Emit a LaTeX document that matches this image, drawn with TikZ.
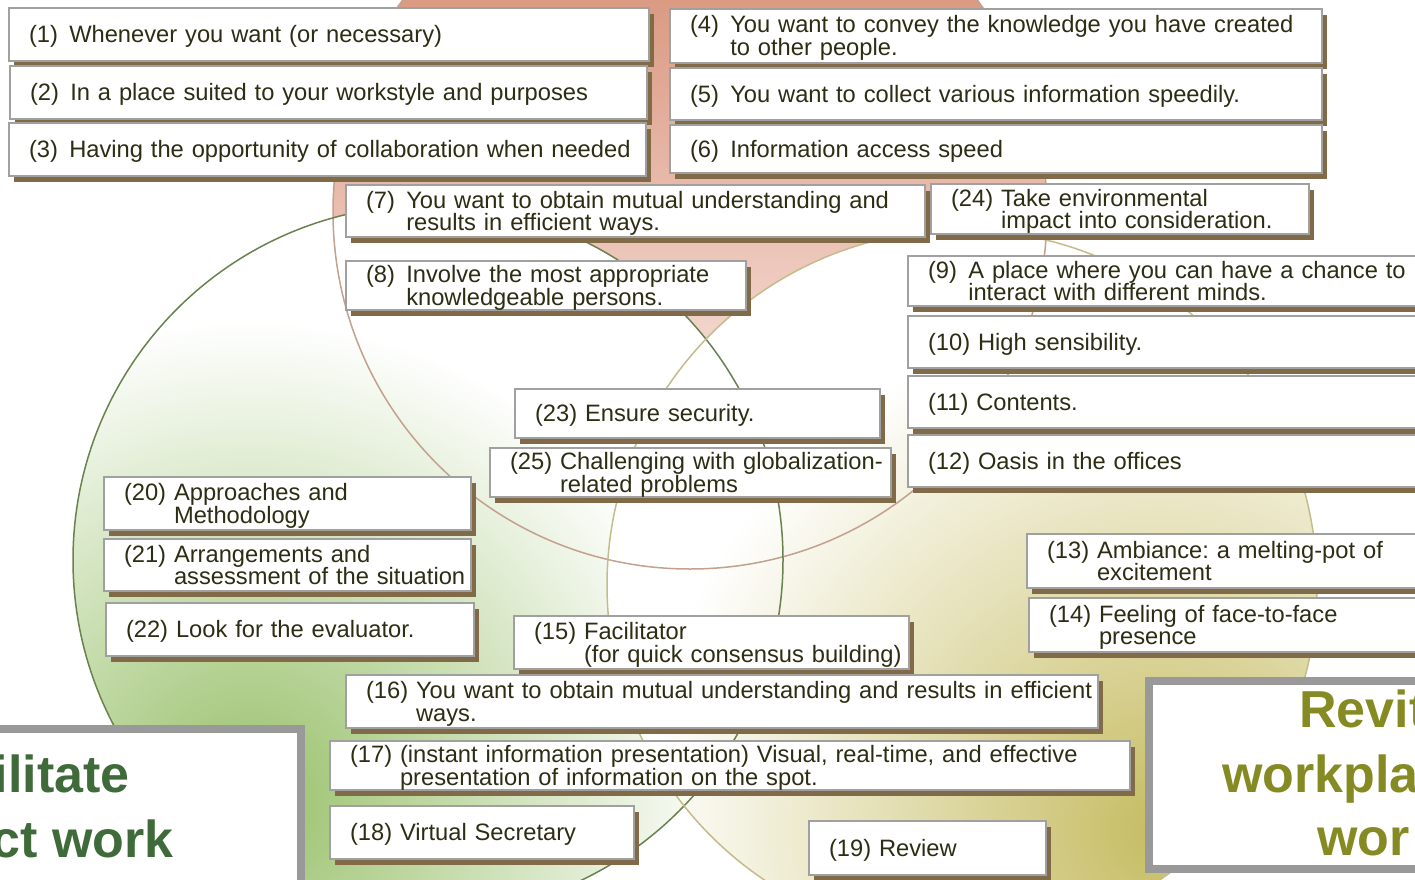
\documentclass[tikz,border=0pt]{standalone}
\usepackage{fontspec}
\setmainfont{Liberation Sans}
\usepackage{array}
\usetikzlibrary{shadows}
\frenchspacing

\definecolor{boxgray}{RGB}{160,160,160}
\definecolor{framegray}{RGB}{153,153,153}
\definecolor{shadebrown}{RGB}{128,106,72}
\definecolor{inktext}{RGB}{45,45,20}
\definecolor{salmontop}{RGB}{208,130,100}
\definecolor{salmonmid}{RGB}{234,190,176}
\definecolor{salmonline}{RGB}{196,160,142}
\definecolor{leafgreen}{RGB}{152,192,106}
\definecolor{leafline}{RGB}{105,130,80}
\definecolor{olivefill}{RGB}{198,188,98}
\definecolor{oliveline}{RGB}{196,188,140}
\definecolor{titlegreen}{RGB}{63,106,58}
\definecolor{titleolive}{RGB}{134,138,34}

\newcommand{\boxfont}{\fontsize{23.7}{22.5}\selectfont}
\newcommand{\headfont}{\fontsize{52}{60}\selectfont\bfseries}
\newcommand{\rowstrut}{\rule[-5pt]{0pt}{22.5pt}}
\newlength{\itmwd}
\newcommand{\itm}[2]{%
  \rule{0pt}{21.5pt}%
  \settowidth{\itmwd}{#1\ }%
  \ifdim\itmwd<1.7em\setlength{\itmwd}{1.7em}\fi
  \makebox[\itmwd][l]{#1}%
  {\renewcommand{\arraystretch}{0}%
   \begin{tabular}[t]{@{}>{\rowstrut}l@{}}#2\end{tabular}}}

\begin{document}
\begin{tikzpicture}[x=1pt, y=-1pt,
    pbox/.style={draw=boxgray, line width=2pt, fill=white, anchor=north west,
      inner xsep=20pt, inner ysep=0pt, align=left, font=\boxfont, text=inktext,
      drop shadow={shadow xshift=5pt, shadow yshift=-6pt, fill=shadebrown, opacity=1}},
    bigbox/.style={draw=framegray, line width=8pt, fill=white, anchor=north west, inner sep=0pt},
    headline/.style={inner sep=0pt, font=\headfont}]
    \useasboundingbox (0,0) rectangle (1415,880);

    % three circles
    \shade[top color=salmontop, bottom color=white, middle color=salmonmid] (690,212) circle[radius=357pt];
    \begin{scope}
        \clip (428,560) circle[radius=355pt];
        \fill[white] (428,560) circle[radius=355pt];
        \shade[inner color=leafgreen, outer color=white] (250,800) circle[radius=480pt];
    \end{scope}
    \begin{scope}
        \clip (962,585) circle[radius=355pt];
        \fill[white] (962,585) circle[radius=355pt];
        \shade[inner color=olivefill, outer color=white] (1160,830) circle[radius=520pt];
    \end{scope}
    \draw[salmonline, line width=1.5pt] (690,212) circle[radius=357pt];
    \draw[leafline, line width=1.5pt] (428,560) circle[radius=355pt];
    \draw[oliveline, line width=1.5pt] (962,585) circle[radius=355pt];

    \node[pbox, text width=600pt, minimum height=53pt] (b1) at (8,7) {\itm{(1)}{Whenever you want (or necessary)}};
    \node[pbox, text width=597pt, minimum height=53pt] (b2) at (9,65) {\itm{(2)}{In a place suited to your workstyle and purposes}};
    \node[pbox, text width=597pt, minimum height=53pt] (b3) at (8,122) {\itm{(3)}{Having the opportunity of collaboration when needed}};
    \node[pbox, text width=612pt, minimum height=54pt] (b4) at (669,8) {\itm{(4)}{You want to convey the knowledge you have created\\to other people.}};
    \node[pbox, text width=612pt, minimum height=52pt] (b5) at (669,67) {\itm{(5)}{You want to collect various information speedily.}};
    \node[pbox, text width=612pt, minimum height=48pt] (b6) at (669,124) {\itm{(6)}{Information access speed}};
    \node[pbox, text width=539pt, minimum height=52pt] (b7) at (345,184) {\itm{(7)}{You want to obtain mutual understanding and\\results in efficient ways.}};
    \node[pbox, text width=360pt, minimum height=49pt] (b8) at (345,260) {\itm{(8)}{Involve the most appropriate\\knowledgeable persons.}};
    \node[pbox, text width=493pt, minimum height=50pt] (b9) at (907,255) {\itm{(9)}{A place where you can have a chance to\\interact with different minds.}};
    \node[pbox, text width=493pt, minimum height=52pt] (b10) at (907,315) {\itm{(10)}{High sensibility.}};
    \node[pbox, text width=493pt, minimum height=52pt] (b11) at (907,375) {\itm{(11)}{Contents.}};
    \node[pbox, text width=493pt, minimum height=52pt] (b12) at (907,434) {\itm{(12)}{Oasis in the offices}};
    \node[pbox, text width=374pt, minimum height=54pt] (b13) at (1026,533) {\itm{(13)}{Ambiance: a melting-pot of\\excitement}};
    \node[pbox, text width=372pt, minimum height=54pt] (b14) at (1028,597) {\itm{(14)}{Feeling of face-to-face\\presence}};
    \node[pbox, text width=355pt, minimum height=53pt] (b15) at (513,615) {\itm{(15)}{Facilitator\\(for quick consensus building)}};
    \node[pbox, text width=712pt, minimum height=53pt] (b16) at (345,674) {\itm{(16)}{You want to obtain mutual understanding and results in efficient\\ways.}};
    \node[pbox, text width=760pt, minimum height=49pt] (b17) at (329,740) {\itm{(17)}{(instant information presentation) Visual, real-time, and effective\\presentation of information on the spot.}};
    \node[pbox, text width=264pt, minimum height=53pt] (b18) at (329,805) {\itm{(18)}{Virtual Secretary}};
    \node[pbox, text width=197pt, minimum height=54pt] (b19) at (808,820) {\itm{(19)}{Review}};
    \node[pbox, text width=327pt, minimum height=53pt] (b20) at (103,476) {\itm{(20)}{Approaches and\\Methodology}};
    \node[pbox, text width=327pt, minimum height=52pt] (b21) at (103,538) {\itm{(21)}{Arrangements and\\assessment of the situation}};
    \node[pbox, text width=328pt, minimum height=53pt] (b22) at (105,602) {\itm{(22)}{Look for the evaluator.}};
    \node[pbox, text width=325pt, minimum height=49pt] (b23) at (514,388) {\itm{(23)}{Ensure security.}};
    \node[pbox, text width=338pt, minimum height=50pt] (b24) at (930,183) {\itm{(24)}{Take environmental\\impact into consideration.}};
    \node[pbox, text width=361pt, minimum height=49pt] (b25) at (489,447) {\itm{(25)}{Challenging with globalization-\\related problems}};

    % title frames
    \node[bigbox, minimum width=327pt, minimum height=190pt] (leftframe) at (-30,725) {};
    \node[bigbox, minimum width=310pt, minimum height=188pt] (rightframe) at (1145,677) {};
    \node[headline, text=titlegreen, anchor=base east] (lefthead1) at (130,792) {ilitate};
    \node[headline, text=titlegreen, anchor=base east] (lefthead2) at (174,857) {ct work};
    \node[headline, text=titleolive, anchor=base west] (righthead1) at (1299,727) {Revit};
    \node[headline, text=titleolive, anchor=base west] (righthead2) at (1222,792) {workpla};
    \node[headline, text=titleolive, anchor=base west] (righthead3) at (1317,855) {wor};
\end{tikzpicture}
\end{document}
